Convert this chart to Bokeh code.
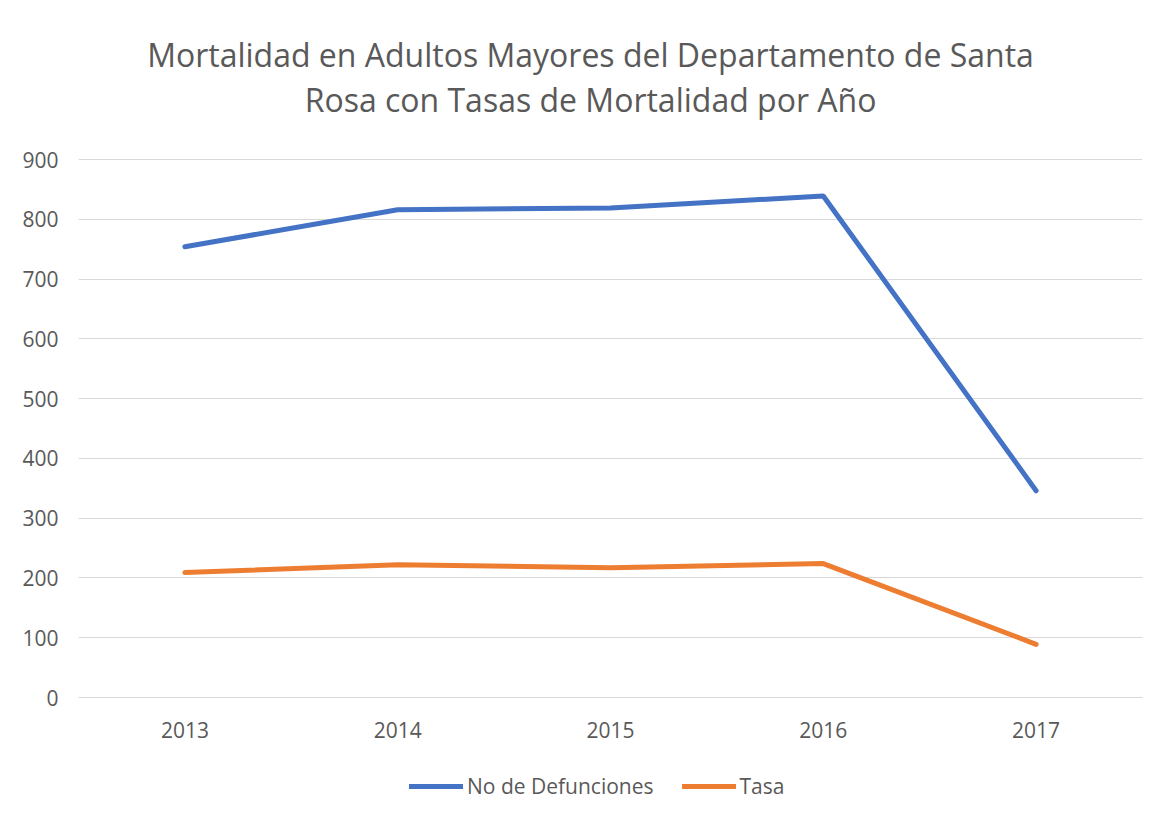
from bokeh.plotting import figure
from bokeh.models import ColumnDataSource, Legend, LegendItem, Label, FactorRange, Range1d
from bokeh.core.properties import value
from bokeh.embed import file_html
from bokeh.resources import INLINE

years = ["2013", "2014", "2015", "2016", "2017"]
defunciones = [754, 816, 819, 839, 346]
tasa = [209, 222, 217, 224, 89]
y_ticks = [0, 100, 200, 300, 400, 500, 600, 700, 800, 900]
title_lines = ["Mortalidad en Adultos Mayores del Departamento de Santa",
               "Rosa con Tasas de Mortalidad por Año"]

FONT = "Open Sans"
GRAY = "#595959"

# layout (screen pixels)
W, H = 1160, 818
LEFT, RIGHT = 78, 18
PX_ZERO, PX_TOP = 697, 159          # pixel rows of value 0 and of value 900
scale = (PX_ZERO - PX_TOP) / 900.0  # px per unit


def yv(py):
    """data value at pixel row py"""
    return (PX_ZERO - py) / scale


src = ColumnDataSource(dict(year=years, d=defunciones, t=tasa))

p = figure(width=W, height=H, x_range=FactorRange(*years),
           y_range=Range1d(yv(H), yv(0)),
           output_backend="svg", toolbar_location=None,
           min_border_left=LEFT, min_border_right=RIGHT, min_border_top=0, min_border_bottom=0)
p.title = None

r1 = p.line("year", "d", source=src, line_color="#4472C4", line_width=5, line_cap="round")
r2 = p.line("year", "t", source=src, line_color="#ED7D31", line_width=5, line_cap="round")

# category labels under the zero line
p.text(x=years, y=[0] * len(years), text=years, y_offset=32,
       text_align="center", text_baseline="middle",
       text_font=value(FONT), text_font_size="21px", text_color=GRAY)

# two-line centred title
cx = (590 - LEFT) / ((W - LEFT - RIGHT) / len(years))
for py, txt in zip((54, 99), title_lines):
    p.add_layout(Label(x=cx, y=yv(py), text=txt, text_align="center", text_baseline="middle",
                       text_font=FONT, text_font_size="32px", text_color=GRAY))

p.xaxis.visible = False
p.yaxis.ticker = y_ticks
p.yaxis.major_tick_line_color = None
p.yaxis.minor_tick_line_color = None
p.yaxis.axis_line_color = None
p.yaxis.major_label_text_font = FONT
p.yaxis.major_label_text_font_size = "21px"
p.yaxis.major_label_text_color = GRAY
p.yaxis.major_label_standoff = 14

p.ygrid.grid_line_color = "#D9D9D9"
p.ygrid.grid_line_width = 1
p.xgrid.grid_line_color = None
p.outline_line_color = None

legend = Legend(items=[LegendItem(label="No de Defunciones", renderers=[r1]),
                       LegendItem(label="Tasa", renderers=[r2])],
                orientation="horizontal", location=(331, 18),
                label_text_font=FONT, label_text_font_size="21px", label_text_color=GRAY,
                glyph_width=54, glyph_height=20, spacing=28, label_standoff=4, padding=5,
                border_line_color=None, background_fill_alpha=0, margin=0)
p.add_layout(legend, "center")

open("out.html", "w").write(file_html(p, INLINE))
